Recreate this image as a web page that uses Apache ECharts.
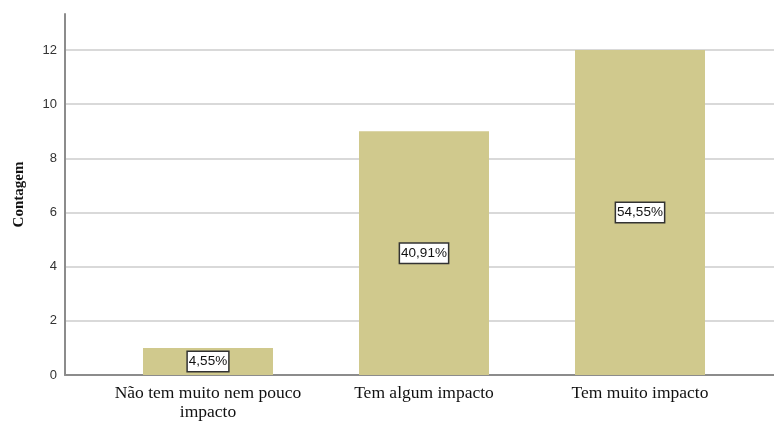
<!DOCTYPE html>
<html><head><meta charset="utf-8">
<script src="https://cdn.jsdelivr.net/npm/echarts@6/dist/echarts.min.js"></script>
<style>html,body{margin:0;padding:0;background:#fff}#c{width:774px;height:423px}</style>
</head><body><div id="c"></div>
<script>
const categories = ['Não tem muito nem pouco\nimpacto', 'Tem algum impacto', 'Tem muito impacto'];
const counts = [1, 9, 12];
const percentLabels = ['4,55%', '40,91%', '54,55%'];
const yTicks = [0, 2, 4, 6, 8, 10, 12];

const chart = echarts.init(document.getElementById('c'));
const TOP = 50, BOTTOM = 48;
chart.setOption({
  animation: false,
  grid: [
    {left: 65, right: 0, top: 14, bottom: BOTTOM},
    {left: 65, right: 0, top: TOP, bottom: BOTTOM},
    {left: 100, right: 26, top: TOP, bottom: BOTTOM}
  ],
  xAxis: [
    {gridIndex: 0, type: 'value', min: 0, max: 1, axisLine: {show: true, lineStyle: {color: '#8c8c8c', width: 2}},
     axisTick: {show: false}, axisLabel: {show: false}, splitLine: {show: false}},
    {gridIndex: 1, type: 'value', min: 0, max: 1, show: false},
    {gridIndex: 2, type: 'category', data: categories,
     axisLine: {show: false}, axisTick: {show: false},
     axisLabel: {margin: 9, color: '#111', fontFamily: 'Liberation Serif', fontSize: 17.5, lineHeight: 19, interval: 0}}
  ],
  yAxis: [
    {gridIndex: 0, type: 'value', min: 0, max: 361 / (325 / 12),
     axisLine: {show: true, lineStyle: {color: '#8c8c8c', width: 2}}, axisTick: {show: false},
     axisLabel: {show: false}, splitLine: {show: false},
     name: 'Contagem', nameLocation: 'middle', nameGap: 38,
     nameTextStyle: {fontFamily: 'Liberation Serif', fontWeight: 'bold', fontSize: 15, color: '#111'}},
    {gridIndex: 1, type: 'value', min: yTicks[0], max: yTicks[yTicks.length - 1], interval: 2,
     axisLine: {show: false}, axisTick: {show: false},
     axisLabel: {margin: 8, color: '#333', fontFamily: 'Liberation Sans', fontSize: 13},
     splitLine: {show: true, lineStyle: {color: '#d9d9d9', width: 2}}},
    {gridIndex: 2, type: 'value', min: 0, max: 12, show: false}
  ],
  series: [{
    type: 'bar', xAxisIndex: 2, yAxisIndex: 2, data: counts, barWidth: 130, z: 3,
    itemStyle: {color: '#d0c98d'},
    label: {show: true, position: 'inside',
      formatter: p => percentLabels[p.dataIndex],
      backgroundColor: '#fff', borderColor: '#333', borderWidth: 1.5,
      padding: [3, 1, 2, 1], color: '#111', fontFamily: 'Liberation Sans Narrow, Liberation Sans', fontSize: 13.5}
  }]
});
</script></body></html>
